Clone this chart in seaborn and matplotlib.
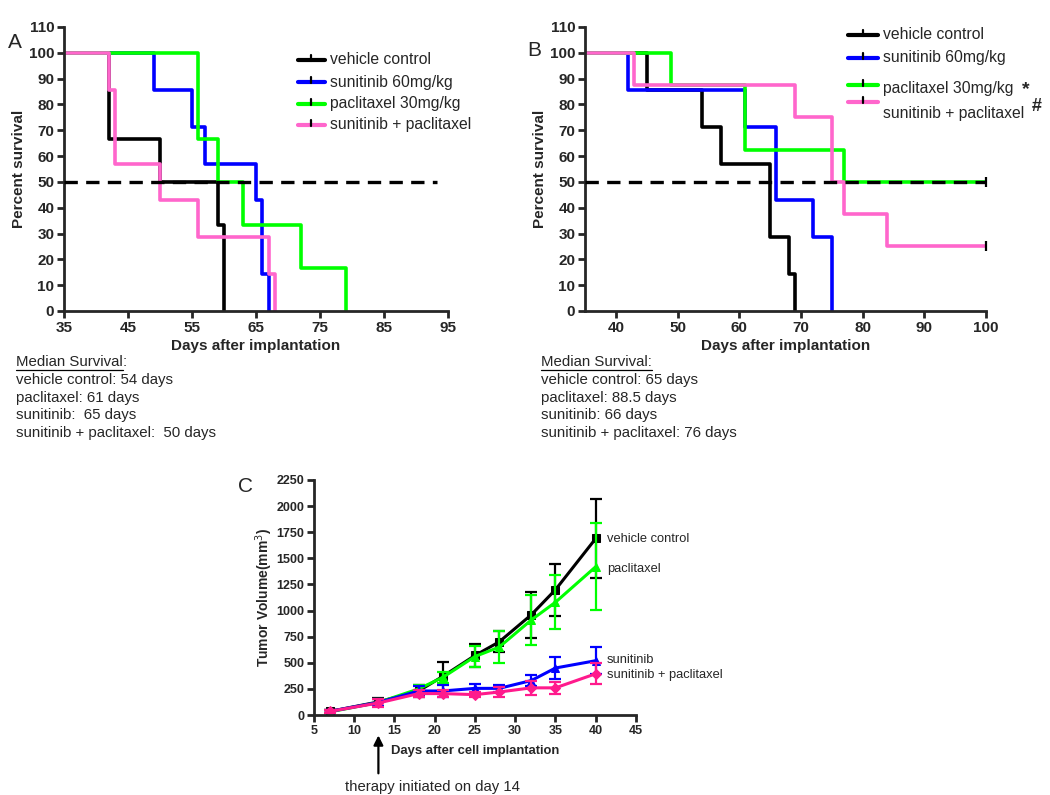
import numpy as np
import pandas as pd
import matplotlib.pyplot as plt
import seaborn as sns
from matplotlib.lines import Line2D

sns.set_style("ticks")
plt.rcParams['font.family'] = ['Liberation Sans', 'DejaVu Sans']

# --- Kaplan-Meier step data (time, percent survival) ---
groups = ['vehicle control', 'sunitinib 60mg/kg', 'paclitaxel 30mg/kg', 'sunitinib + paclitaxel']
km_colors = ['black', '#0000ff', '#00ff00', '#ff66cc']

a_times = {
    'vehicle control': [35, 42, 50, 59, 60],
    'sunitinib 60mg/kg': [35, 49, 55, 57, 65, 66, 67],
    'paclitaxel 30mg/kg': [35, 56, 59, 63, 72, 79],
    'sunitinib + paclitaxel': [35, 42, 43, 50, 56, 67, 68],
}
a_surv = {
    'vehicle control': [100, 66.7, 50, 33.3, 0],
    'sunitinib 60mg/kg': [100, 85.7, 71.4, 57.1, 42.9, 14.3, 0],
    'paclitaxel 30mg/kg': [100, 66.7, 50, 33.3, 16.7, 0],
    'sunitinib + paclitaxel': [100, 85.7, 57.1, 42.9, 28.6, 14.3, 0],
}

b_times = {
    'vehicle control': [35, 45, 54, 57, 65, 68, 69],
    'sunitinib 60mg/kg': [35, 42, 61, 66, 72, 75],
    'paclitaxel 30mg/kg': [35, 49, 61, 77, 100],
    'sunitinib + paclitaxel': [35, 43, 69, 75, 77, 84, 100],
}
b_surv = {
    'vehicle control': [100, 85.7, 71.4, 57.1, 28.6, 14.3, 0],
    'sunitinib 60mg/kg': [100, 85.7, 71.4, 42.9, 28.6, 0],
    'paclitaxel 30mg/kg': [100, 87.5, 62.5, 50, 50],
    'sunitinib + paclitaxel': [100, 87.5, 75, 50, 37.5, 25, 25],
}
b_censored = ['paclitaxel 30mg/kg', 'sunitinib + paclitaxel']

a_median = ['vehicle control: 54 days', 'paclitaxel: 61 days', 'sunitinib:  65 days',
            'sunitinib + paclitaxel:  50 days']
b_median = ['vehicle control: 65 days', 'paclitaxel: 88.5 days', 'sunitinib: 66 days',
            'sunitinib + paclitaxel: 76 days']

# --- Tumor volume data (mean +/- SEM) ---
days = [7, 13, 18, 21, 25, 28, 32, 35, 40]
vol_vehicle = [35, 125, 230, 370, 570, 700, 960, 1200, 1690]
sem_vehicle = [15, 40, 60, 140, 110, 100, 220, 250, 380]
vol_pacli = [30, 120, 250, 360, 560, 650, 910, 1080, 1420]
sem_pacli = [15, 35, 40, 50, 105, 150, 235, 260, 415]
vol_suni = [35, 120, 230, 230, 255, 255, 330, 450, 520]
sem_suni = [15, 35, 50, 55, 45, 30, 55, 105, 130]
vol_combo = [35, 115, 205, 205, 195, 220, 260, 260, 395]
sem_combo = [15, 40, 35, 35, 25, 45, 70, 60, 100]
c_labels = ['vehicle control', 'paclitaxel', 'sunitinib', 'sunitinib + paclitaxel']
c_label_y = [1685, 1400, 525, 380]
c_colors = ['black', '#00ff00', '#0000ff', '#ff1a8c']
c_markers = ['s', '^', '^', 'D']

fig = plt.figure(figsize=(10.5, 7.95), dpi=100)
W, H = 1050, 795


def px_axes(l, t, r, b):
    return fig.add_axes([l / W, 1 - b / H, (r - l) / W, (b - t) / H])


def style_axes(ax, fs=11):
    sns.despine(ax=ax)
    for s in ['left', 'bottom']:
        ax.spines[s].set_linewidth(2)
    ax.tick_params(width=2, length=5, labelsize=fs, pad=2)
    for lab in ax.get_xticklabels() + ax.get_yticklabels():
        lab.set_fontweight('bold')


def km_panel(ax, times, surv, xlim, xticks, dash_end):
    for g, c in zip(groups, km_colors):
        df = pd.DataFrame({'t': times[g], 's': surv[g]})
        sns.lineplot(data=df, x='t', y='s', ax=ax, color=c, lw=2.6,
                     drawstyle='steps-post', estimator=None, sort=False)
    ax.plot([xlim[0], dash_end], [50, 50], color='black', lw=2.4, ls=(0, (4, 2.5)),
            zorder=5, clip_on=False)
    ax.set_xlim(*xlim)
    ax.set_ylim(0, 110)
    ax.set_xticks(xticks)
    ax.set_yticks(range(0, 111, 10))
    ax.set_xlabel('Days after implantation', fontsize=11, fontweight='bold', labelpad=3)
    ax.set_ylabel('Percent survival', fontsize=11, fontweight='bold', labelpad=2)
    style_axes(ax)


def legend_rows(ax, x0, x1, xt, ys, labels, colors, fs=11.3, text_dy=None):
    for i, (y, lab, c) in enumerate(zip(ys, labels, colors)):
        ax.add_line(Line2D([x0, x1], [y, y], color=c, lw=3, transform=ax.transAxes,
                           clip_on=False))
        xm = (x0 + x1) / 2
        ax.add_line(Line2D([xm, xm], [y - 0.004, y + 0.018], color='black', lw=1.6,
                           transform=ax.transAxes, clip_on=False))
        ty = y if text_dy is None else y + text_dy[i]
        ax.text(xt, ty, lab, transform=ax.transAxes, fontsize=fs, va='center', ha='left')


def median_block(x, lines, underline_colon):
    y0 = 362
    t = fig.text(x / W, 1 - y0 / H, 'Median Survival' + (':' if underline_colon else ''),
                 fontsize=10.8, va='center')
    fig.canvas.draw()
    bb = t.get_window_extent()
    fig.add_artist(Line2D([bb.x0 / W, bb.x1 / W], [(bb.y0 - 1) / H, (bb.y0 - 1) / H],
                          color='black', lw=0.9))
    if not underline_colon:
        fig.text(bb.x1 / W, 1 - y0 / H, ':', fontsize=10.8, va='center')
    for i, s in enumerate(lines):
        fig.text(x / W, 1 - (y0 + 17.8 * (i + 1)) / H, s, fontsize=10.8, va='center')


# Panel A
axA = px_axes(64, 27, 448, 311)
km_panel(axA, a_times, a_surv, (35, 95), range(35, 96, 10), 93.3)
legend_rows(axA, 0.609, 0.68, 0.693, [0.884, 0.806, 0.729, 0.655], groups, km_colors)
fig.text(8 / W, 1 - 42 / H, 'A', fontsize=15, va='center')
median_block(16, a_median, False)

# Panel B
axB = px_axes(585, 27, 986, 311)
km_panel(axB, b_times, b_surv, (35, 100), range(40, 101, 10), 100)
for g, c in zip(groups, km_colors):
    if g in b_censored:
        axB.plot(b_times[g][-1], b_surv[g][-1], marker='|', color='black', ms=7, mew=1.6,
                 clip_on=False, zorder=6)
legend_rows(axB, 0.656, 0.731, 0.743, [0.972, 0.891, 0.796, 0.736], groups, km_colors,
            text_dy=[0, 0, -0.014, -0.039])
axB.text(1.10, 0.78, '*', transform=axB.transAxes, fontsize=14, fontweight='bold',
         va='center', ha='center')
axB.text(1.127, 0.72, '#', transform=axB.transAxes, fontsize=13, fontweight='bold',
         va='center', ha='center')
fig.text(527 / W, 1 - 50 / H, 'B', fontsize=15, va='center')
median_block(541, b_median, True)

# Panel C
axC = px_axes(314, 480, 636, 715)
c_vols = [vol_vehicle, vol_pacli, vol_suni, vol_combo]
c_sems = [sem_vehicle, sem_pacli, sem_suni, sem_combo]
for lab, ly, v, e, c, m in zip(c_labels, c_label_y, c_vols, c_sems, c_colors, c_markers):
    axC.errorbar(days, v, yerr=e, fmt='none', ecolor=c, elinewidth=1.6,
                 capsize=4, capthick=1.6)
    df = pd.DataFrame({'day': days, 'vol': v})
    sns.lineplot(data=df, x='day', y='vol', ax=axC, color=c, lw=2.2, marker=m,
                 markersize=5.5, markeredgecolor=c, estimator=None)
    axC.text(41.4, ly, lab, fontsize=9.3, va='center', ha='left', clip_on=False)
axC.set_xlim(5, 45)
axC.set_ylim(0, 2250)
axC.set_xticks(range(5, 46, 5))
axC.set_yticks(range(0, 2251, 250))
axC.set_xlabel('Days after cell implantation', fontsize=9.4, fontweight='bold', labelpad=6)
axC.set_ylabel('Tumor Volume(mm$^3$)', fontsize=10, fontweight='bold', labelpad=1)
style_axes(axC, fs=9)
axC.annotate('', xy=(13, -0.075), xycoords=('data', 'axes fraction'),
             xytext=(13, -0.26), textcoords=('data', 'axes fraction'),
             arrowprops=dict(arrowstyle='-|>', color='black', lw=1.6, mutation_scale=14))
axC.text(8.85, -0.305, 'therapy initiated on day 14', transform=axC.get_xaxis_transform(),
         fontsize=10.7, ha='left', va='center')
fig.text(238 / W, 1 - 487 / H, 'C', fontsize=15, va='center')

fig.savefig('out.png', dpi=100)
